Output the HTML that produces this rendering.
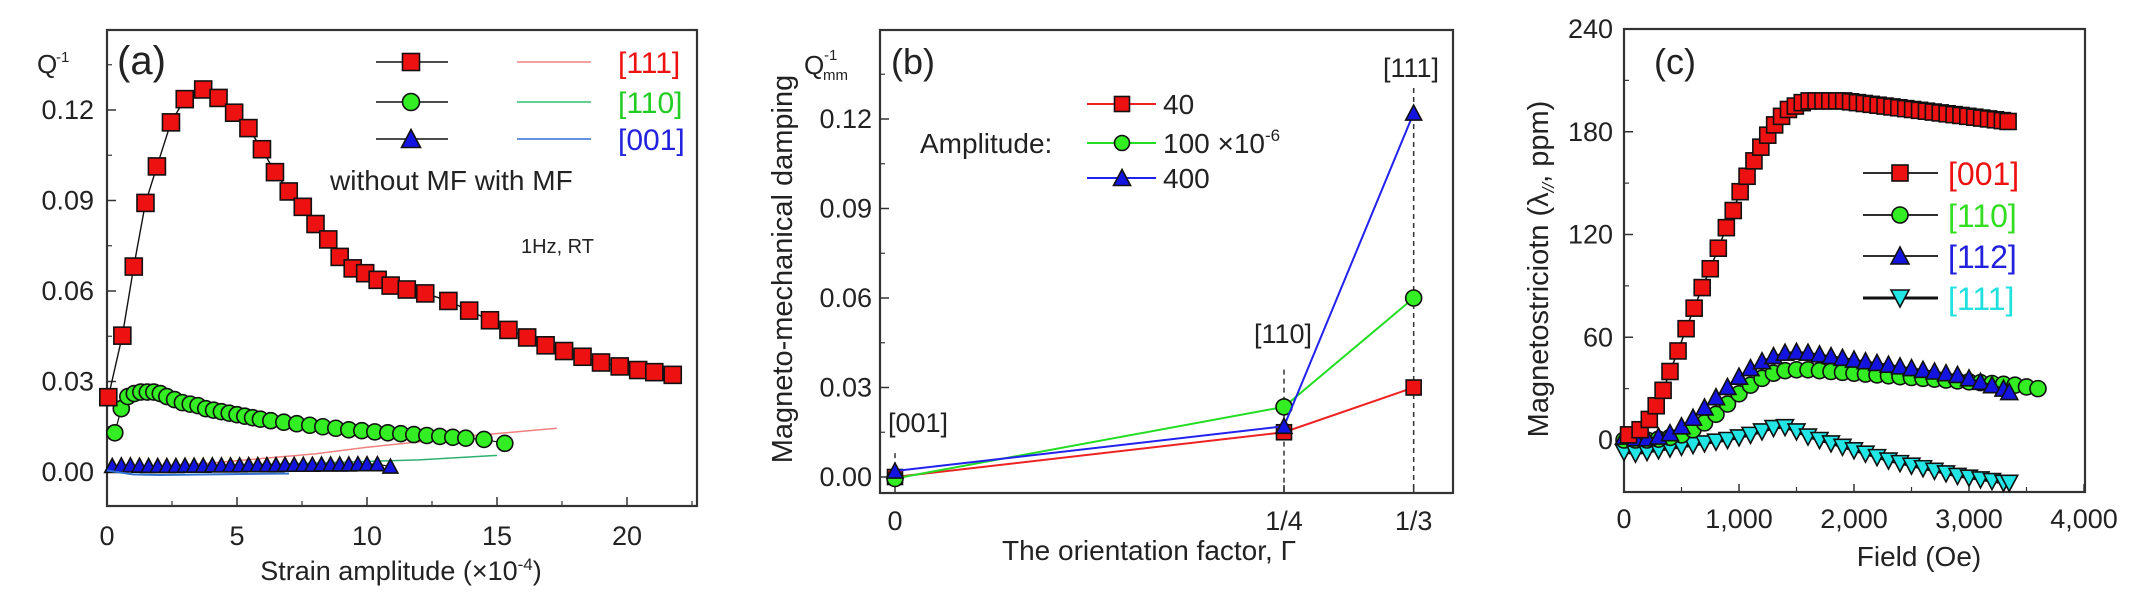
<!DOCTYPE html>
<html><head><meta charset="utf-8"><style>
html,body{margin:0;padding:0;background:#fff;}
svg{display:block;font-family:"Liberation Sans",Arial,sans-serif;}
</style></head><body>
<svg id="fig" width="2134" height="603" viewBox="0 0 2134 603" xmlns="http://www.w3.org/2000/svg"></svg>
<script>
// ---------- Panel (a) data ----------
const aRedX=[0.05,0.59,1.03,1.48,1.92,2.46,2.99,3.70,4.29,4.89,5.44,5.96,6.46,6.99,7.53,8.02,8.51,8.95,9.45,9.93,10.41,10.91,11.53,12.24,13.13,13.93,14.73,15.44,16.16,16.87,17.58,18.29,19.0,19.72,20.43,21.05,21.76];
const aRedY=[0.0248,0.0452,0.0681,0.0892,0.1013,0.1159,0.1236,0.1268,0.124,0.1191,0.114,0.107,0.0994,0.093,0.0879,0.0822,0.0771,0.0713,0.0675,0.0659,0.0637,0.0618,0.0605,0.0592,0.0567,0.0535,0.0503,0.0471,0.0446,0.042,0.0401,0.0382,0.0363,0.035,0.0338,0.0331,0.0322];
const aGreenX=[0.3,0.55,0.8,1.05,1.3,1.55,1.8,2.05,2.3,2.6,2.9,3.2,3.5,3.8,4.1,4.4,4.7,5.0,5.3,5.6,5.9,6.3,6.8,7.3,7.8,8.3,8.8,9.3,9.8,10.3,10.8,11.3,11.8,12.3,12.8,13.3,13.8,14.5,15.3];
const aGreenY=[0.013,0.021,0.025,0.026,0.0265,0.0265,0.0265,0.026,0.025,0.024,0.023,0.0225,0.022,0.021,0.0205,0.02,0.0195,0.019,0.0185,0.018,0.0175,0.017,0.0165,0.016,0.0155,0.015,0.0145,0.014,0.0137,0.0133,0.013,0.0127,0.0124,0.0121,0.0118,0.0115,0.0112,0.0108,0.0095];
const aBlueX=[0.2,0.55,0.9,1.25,1.6,1.95,2.3,2.65,3.0,3.35,3.7,4.05,4.4,4.75,5.1,5.45,5.8,6.15,6.5,6.85,7.2,7.55,7.9,8.25,8.6,8.95,9.3,9.65,10.0,10.4,10.9];
const aBlueY=[0.002,0.0022,0.0022,0.0021,0.002,0.002,0.002,0.002,0.0021,0.0021,0.0021,0.0022,0.0022,0.0022,0.0022,0.0023,0.0023,0.0023,0.0023,0.0024,0.0024,0.0024,0.0024,0.0025,0.0025,0.0025,0.0025,0.0026,0.0026,0.0026,0.0018];
const aMfRedX=[0,2,4,6,8,10,12,14,16,17.3];
const aMfRedY=[0.001,0.002,0.003,0.0045,0.006,0.0082,0.010,0.012,0.0135,0.0145];
const aMfGreenX=[0,4,8,12,15];
const aMfGreenY=[0.001,0.002,0.003,0.004,0.0055];
const aMfBlueX=[0,1,2,4,7];
const aMfBlueY=[0.0005,-0.0008,-0.001,-0.0008,-0.0005];
const aXTicks=[0,5,10,15,20];
const aYTicks=[0,0.03,0.06,0.09,0.12];
const aYLabels=["0.00","0.03","0.06","0.09","0.12"];
// ---------- Panel (b) data ----------
const bX=[0,0.25,1/3];
const bXLabels=["0","1/4","1/3"];
const b40=[0.000,0.015,0.030];
const b100=[-0.0005,0.0235,0.060];
const b400=[0.002,0.017,0.122];
const bYTicks=[0,0.03,0.06,0.09,0.12];
const bYLabels=["0.00","0.03","0.06","0.09","0.12"];
// ---------- Panel (c) data ----------
const cRedX=[40,140,220,280,340,400,470,540,610,680,750,820,890,950,1010,1070,1130,1190,1250,1310,1370,1430,1490,1550,1610,1670,1730,1790,1850,1910,1970,2030,2090,2150,2210,2270,2330,2390,2450,2510,2570,2630,2690,2750,2810,2870,2930,2990,3050,3110,3170,3230,3290,3340];
const cRedY=[3,6,12,20,29,40,52,65,77,89,100,112,124,134,145,154,163,171,178,184,189,193,195,197,198,198,198,198,198,198,197.5,197,196.5,196,195.5,195,194.5,194,193.5,193,192.5,192,191.5,191,190.5,190,189.5,189,188.5,188,187.5,187,186.5,186];
const cGreenX=[0,100,200,300,400,500,600,700,800,900,1000,1100,1200,1300,1400,1500,1600,1700,1800,1900,2000,2100,2200,2300,2400,2500,2600,2700,2800,2900,3000,3100,3200,3300,3400,3500,3600];
const cGreenY=[0,0,0,0.5,1.5,3,6,10,15,21,27,32,36,39,40.5,41,41,40.5,40,39.5,39,38.5,38,37.5,37,36.5,36,35.5,35,34.5,34,33.5,33,32.5,32,31,30];
const cBlueX=[0,100,200,300,400,500,600,700,800,900,1000,1100,1200,1300,1400,1500,1600,1700,1800,1900,2000,2100,2200,2300,2400,2500,2600,2700,2800,2900,3000,3100,3200,3300,3350];
const cBlueY=[2,1,1,2,4,8,13,19,25,31,37,42,46,49,51,51.5,51,50,49,48,47,46,45,44,43,42,41,40,39,38,36,34,32,30,28];
const cCyanX=[0,100,200,300,400,500,600,700,800,900,1000,1100,1200,1300,1400,1500,1600,1700,1800,1900,2000,2100,2200,2300,2400,2500,2600,2700,2800,2900,3000,3100,3200,3300,3350];
const cCyanY=[-7,-8,-7,-6,-5,-4,-3,-2,-1,0,1.5,3,5,7,7.5,5,2,0,-2,-4,-6,-8,-10,-12,-13.5,-15,-16.5,-18,-19.5,-21,-22,-23,-24,-25,-25];
const cXTicks=[0,1000,2000,3000,4000];
const cXLabels=["0","1,000","2,000","3,000","4,000"];
const cYTicks=[0,60,120,180,240];

const NS="http://www.w3.org/2000/svg";
const svg=document.getElementById('fig');
function mk(tag,attrs,parent){const e=document.createElementNS(NS,tag);for(const k in attrs)e.setAttribute(k,attrs[k]);(parent||svg).appendChild(e);return e;}
function txt(s,x,y,size,opts,parent){opts=opts||{};const t=mk('text',{x:x,y:y,'font-size':size,fill:opts.fill||'#222','text-anchor':opts.anchor||'start'},parent);if(opts.transform)t.setAttribute('transform',opts.transform);t.textContent=s;return t;}
function lin(d0,d1,p0,p1){return v=>p0+(v-d0)/(d1-d0)*(p1-p0);}
function marker(g,shape,cx,cy,s,fill){
  let e;
  if(shape==='sq'){e=mk('rect',{x:cx-s/2,y:cy-s/2,width:s,height:s,fill:fill,stroke:'#111','stroke-width':1.6},g);}
  else if(shape==='ci'){e=mk('ellipse',{cx:cx,cy:cy,rx:s/2,ry:s/2,fill:fill,stroke:'#111','stroke-width':1.6},g);}
  else if(shape==='tu'){e=mk('polygon',{points:`${cx},${cy-s/2-1} ${cx-s/2-1},${cy+s/2} ${cx+s/2+1},${cy+s/2}`,fill:fill,stroke:'#111','stroke-width':1.6},g);}
  else {e=mk('polygon',{points:`${cx},${cy+s/2+1} ${cx-s/2-1},${cy-s/2} ${cx+s/2+1},${cy-s/2}`,fill:fill,stroke:'#111','stroke-width':1.6},g);}
  return e;
}
function series(name,xs,ys,sx,sy,shape,fill,size,lineColor,lw){
  const g=mk('g',{});
  
  
  const pts=xs.map((x,i)=>sx(x)+','+sy(ys[i])).join(' ');
  if(lineColor) mk('polyline',{points:pts,fill:'none',stroke:lineColor,'stroke-width':lw||1.5},g);
  if(shape) xs.forEach((x,i)=>{const m=marker(g,shape,sx(x),sy(ys[i]),size,fill);
    
    });
  return g;
}
function frame(name,l,t,r,b){const e=mk('rect',{x:l,y:t,width:r-l,height:b-t,fill:'none',stroke:'#333','stroke-width':2.2});
  
  }

// ================= Panel (a) =================
(function(){
  const L=107,R=697,T=30,B=506;
  const sx=lin(0,1,107,133), sy=lin(0,0.12,472,110);
  frame('panel-a-frame',L,T,R,B);
  aXTicks.forEach(v=>{mk('line',{x1:sx(v),y1:B,x2:sx(v),y2:B-9,stroke:'#333','stroke-width':1.5});
    const t=txt(String(v),sx(v),545,27,{anchor:'middle'});
    
    });
  [2.5,7.5,12.5,17.5,22.5].forEach(v=>mk('line',{x1:sx(v),y1:B,x2:sx(v),y2:B-5,stroke:'#333','stroke-width':1.2}));
  aYTicks.forEach((v,i)=>{mk('line',{x1:L,y1:sy(v),x2:L+9,y2:sy(v),stroke:'#333','stroke-width':1.5});
    const t=txt(aYLabels[i],94,sy(v)+9,27,{anchor:'end'});
    
    });
  [0.015,0.045,0.075,0.105,0.135].forEach(v=>mk('line',{x1:L,y1:sy(v),x2:L+5,y2:sy(v),stroke:'#333','stroke-width':1.2}));
  series('a-mf-111-line',aMfRedX,aMfRedY,sx,sy,null,null,0,'#f08080',1.5);
  series('a-mf-110-line',aMfGreenX,aMfGreenY,sx,sy,null,null,0,'#30b070',1.5);
  series('a-001-series',aBlueX,aBlueY,sx,sy,'tu','#1414e0',13,'#111',1.2);
  series('a-mf-001-line',aMfBlueX,aMfBlueY,sx,sy,null,null,0,'#3070d0',2);
  series('a-110-series',aGreenX,aGreenY,sx,sy,'ci','#33ee22',16,'#111',1.2);
  series('a-111-series',aRedX,aRedY,sx,sy,'sq','#ee1111',17,'#111',1.4);
  const lg=mk('g',{});
  
  
  const rows=[[62,'sq','#ee1111','#f08080','[111]','#ee1111'],[102,'ci','#33ee22','#30c070','[110]','#22cc22'],[139,'tu','#1414e0','#3070d0','[001]','#2222dd']];
  rows.forEach(r=>{mk('line',{x1:376,y1:r[0],x2:448,y2:r[0],stroke:'#111','stroke-width':1.6},lg);
    marker(lg,r[1],411,r[0],17,r[2]);
    mk('line',{x1:517,y1:r[0],x2:591,y2:r[0],stroke:r[3],'stroke-width':1.6},lg);
    txt(r[4],618,r[0]+11,30,{fill:r[5]},lg);});
  txt('without MF  with MF',330,190,28,{},lg);
  const hz=txt('1Hz, RT',521,253,20,{});
  
  
  const pl=txt('(a)',117,74,40,{});  
  const q=txt('Q',37,73,26,{});  
  txt('-1',56,62,15,{});
  const xt=mk('text',{x:401,y:580,'font-size':27,fill:'#222','text-anchor':'middle'});
  
  
  xt.innerHTML='Strain amplitude (×10<tspan dy="-10" font-size="17">-4</tspan><tspan dy="10">)</tspan>';
})();

// ================= Panel (b) =================
(function(){
  const L=880,R=1453,T=30,B=493;
  const sx=lin(0,0.25,895,1284), sy=lin(0,0.12,477,119);
  frame('panel-b-frame',L,T,R,B);
  bX.forEach((v,i)=>{mk('line',{x1:sx(v),y1:B,x2:sx(v),y2:B-8,stroke:'#333','stroke-width':1.5});
    const t=txt(bXLabels[i],sx(v),530,27,{anchor:'middle'});
    
    });
  bYTicks.forEach((v,i)=>{mk('line',{x1:L,y1:sy(v),x2:L+9,y2:sy(v),stroke:'#333','stroke-width':1.5});
    const t=txt(bYLabels[i],872,sy(v)+9,27,{anchor:'end'});
    
    });
  [0.015,0.045,0.075,0.105,0.135].forEach(v=>mk('line',{x1:L,y1:sy(v),x2:L+5,y2:sy(v),stroke:'#333','stroke-width':1.2}));
  [[0,sy(0.008),sy(-0.003)],[0.25,sy(0.036),B],[1/3,88,B]].forEach(d=>{const e=mk('line',{x1:sx(d[0]),y1:d[1],x2:sx(d[0]),y2:d[2],stroke:'#333','stroke-width':1.5,'stroke-dasharray':'5,4'});
    
    });
  [['[001]',918,432],['[110]',1283,343],['[111]',1411,77]].forEach(a=>{const t=txt(a[0],a[1],a[2],27,{anchor:'middle'});
    
    });
  series('b-amp-40-series',bX,b40,sx,sy,'sq','#ee1111',15,'#ee2222',2);
  series('b-amp-100-series',bX,b100,sx,sy,'ci','#33ee22',16,'#22dd22',2);
  series('b-amp-400-series',bX,b400,sx,sy,'tu','#1414e0',14,'#2222ee',2);
  const lg=mk('g',{});
  
  
  [[104,'sq','#ee1111','#ee2222'],[143,'ci','#33ee22','#22dd22'],[178,'tu','#1414e0','#2222ee']].forEach(r=>{
    mk('line',{x1:1087,y1:r[0],x2:1156,y2:r[0],stroke:r[3],'stroke-width':2},lg);
    marker(lg,r[1],1122,r[0],15,r[2]);});
  txt('40',1163,114,28,{},lg);
  const t100=mk('text',{x:1163,y:153,'font-size':28,fill:'#222'},lg);
  t100.innerHTML='100  ×10<tspan dy="-12" font-size="17">-6</tspan>';
  txt('400',1163,188,28,{},lg);
  txt('Amplitude:',920,153,28,{},lg);
  const pl=txt('(b)',891,74,36,{});  
  const q=txt('Q',804,74,26,{});  
  txt('-1',824,60,15,{}); txt('mm',823,80,15,{});
  const yt=txt('Magneto-mechanical damping',792,269,29,{anchor:'middle',transform:'rotate(-90 792 269)'});
   
  const xt=txt('The orientation factor, Γ',1149,560,28,{anchor:'middle'});
   
})();

// ================= Panel (c) =================
(function(){
  const L=1624,R=2085,T=29,B=492;
  const sx=lin(0,1000,1624,1739), sy=lin(0,60,440,337.25);
  frame('panel-c-frame',L,T,R,B);
  cXTicks.forEach((v,i)=>{mk('line',{x1:sx(v),y1:B,x2:sx(v),y2:B-8,stroke:'#333','stroke-width':1.5});
    const t=txt(cXLabels[i],sx(v),528,27,{anchor:'middle'});
    
    });
  [500,1500,2500,3500].forEach(v=>mk('line',{x1:sx(v),y1:B,x2:sx(v),y2:B-5,stroke:'#333','stroke-width':1.2}));
  cYTicks.forEach(v=>{mk('line',{x1:L,y1:sy(v),x2:L+9,y2:sy(v),stroke:'#333','stroke-width':1.5});
    const t=txt(String(v),1613,sy(v)+9,27,{anchor:'end'});
    
    });
  [30,90,150,210].forEach(v=>mk('line',{x1:L,y1:sy(v),x2:L+5,y2:sy(v),stroke:'#333','stroke-width':1.2}));
  series('c-111-series',cCyanX,cCyanY,sx,sy,'td','#22e6e6',15,'#111',3);
  series('c-110-series',cGreenX,cGreenY,sx,sy,'ci','#33ee22',16,'#111',1.5);
  series('c-112-series',cBlueX,cBlueY,sx,sy,'tu','#1414e0',15,'#111',1.5);
  series('c-001-series',cRedX,cRedY,sx,sy,'sq','#ee1111',16,'#111',1.5);
  const lg=mk('g',{});
  
  
  [[173,'sq','#ee1111','[001]','#ee1111'],[215,'ci','#33ee22','[110]','#33dd22'],[256,'tu','#1414e0','[112]','#2222dd'],[298,'td','#22e6e6','[111]','#22e0e0']].forEach(r=>{
    mk('line',{x1:1863,y1:r[0],x2:1938,y2:r[0],stroke:'#111','stroke-width':r[1]==='td'?3:1.8},lg);
    marker(lg,r[1],1900,r[0],16,r[2]);
    txt(r[3],1948,r[0]+12,32,{fill:r[4]},lg);});
  const pl=txt('(c)',1654,74,36,{});  
  const yt=mk('text',{x:1548,y:269,'font-size':29,fill:'#222','text-anchor':'middle',transform:'rotate(-90 1548 269)'});
  
  
  yt.innerHTML='Magnetostriciotn (λ<tspan dy="6" font-size="17" font-style="italic">//</tspan><tspan dy="-6">,   ppm)</tspan>';
  const xt=txt('Field (Oe)',1919,566,28,{anchor:'middle'});
   
})();
</script>
</body></html>
